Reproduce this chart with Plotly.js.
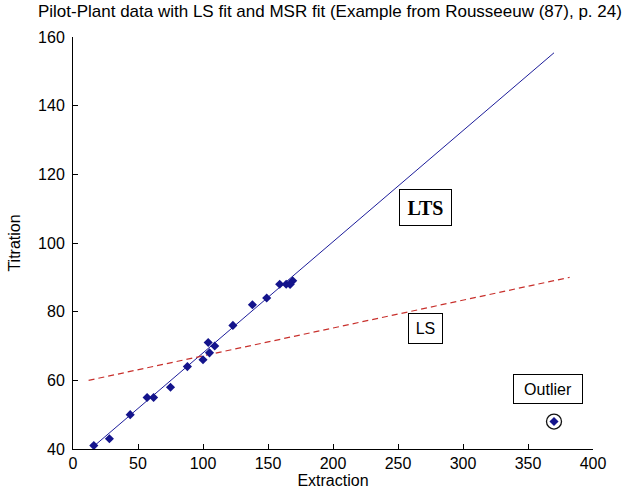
<!DOCTYPE html>
<html>
<head>
<meta charset="utf-8">
<script src="https://cdn.plot.ly/plotly-3.0.1.min.js"></script>
<style>
html,body{margin:0;padding:0;background:#fff;}
#chart{width:626px;height:495px;}
</style>
</head>
<body>
<div id="chart"></div>
<script>
// Pilot-plant data (Rousseeuw 87)
const extraction = [123,109,62,104,57,44,100,16,28,138,105,159,75,88,164,169,167,149,167];
const titration  = [76,70,55,71,55,50,66,41,43,82,68,88,58,64,88,89,88,84,88];
const outlierX = [370];
const outlierY = [48];
// fitted lines (endpoints)
const ltsX = [16, 370];
const ltsY = [40.8, 155.4];
const lsX = [12, 382];
const lsY = [60.0, 90.0];
// tick values
const xTicks = [0,50,100,150,200,250,300,350,400];
const yTicks = [40,60,80,100,120,140,160];
// label annotations
const labelText = ['<b>LTS</b>', 'LS', 'Outlier'];
const labelX = [271.5, 271.3, 365.2];
const labelY = [110.3, 75.1, 57.6];

const FONT = 'Liberation Sans, Arial, sans-serif';

const traces = [
  {x: ltsX, y: ltsY, mode: 'lines', line: {color: '#1c1c9a', width: 1}, hoverinfo: 'skip'},
  {x: lsX, y: lsY, mode: 'lines', line: {color: '#c8302c', width: 1.2, dash: '6px,4px'}, hoverinfo: 'skip'},
  {x: extraction.concat(outlierX), y: titration.concat(outlierY), mode: 'markers',
   marker: {symbol: 'diamond', size: 7, color: '#14148c'}},
  {x: outlierX, y: outlierY, mode: 'markers',
   marker: {symbol: 'circle-open', size: 15, color: '#111', line: {width: 1.3}}}
];

const boxW = [51, 33, 68];
const boxH = [35, 29, 28];
const annotations = labelText.map((t, i) => ({
  x: labelX[i], y: labelY[i], xref: 'x', yref: 'y', text: t, showarrow: false,
  font: i === 0 ? {family: 'Liberation Serif, Times New Roman, serif', size: 20, color: '#000'}
                : {family: FONT, size: 16, color: '#000'},
  width: boxW[i], height: boxH[i], align: 'center', valign: 'middle',
  bgcolor: '#fff', bordercolor: '#000', borderwidth: 1, borderpad: 0
}));

const axisCommon = {
  showgrid: false, zeroline: false, showline: true, linecolor: '#000', linewidth: 1,
  ticks: 'inside', ticklen: 5, tickcolor: '#000', tickwidth: 1,
  tickfont: {family: FONT, size: 16, color: '#000'}, automargin: false, fixedrange: true
};

const layout = {
  width: 626, height: 495,
  margin: {l: 73, r: 33, t: 37, b: 46},
  paper_bgcolor: '#fff', plot_bgcolor: '#fff',
  showlegend: false,
  title: {text: 'Pilot-Plant data with LS fit and MSR fit (Example from Rousseeuw (87), p. 24)',
          font: {family: FONT, size: 17, color: '#000'},
          x: 0.527, xref: 'container', y: 0.977, yref: 'container', yanchor: 'middle'},
  xaxis: Object.assign({}, axisCommon, {range: [0, 400], tickvals: xTicks, ticktext: xTicks.map(String),
          title: {text: 'Extraction', font: {family: FONT, size: 16, color: '#000'}, standoff: 2}}),
  yaxis: Object.assign({}, axisCommon, {range: [40, 160], tickvals: yTicks, ticktext: yTicks.map(String),
          ticklabelstandoff: 4,
          title: {text: 'Titration', font: {family: FONT, size: 16, color: '#000'}, standoff: 13}}),
  annotations: annotations
};

Plotly.newPlot('chart', traces, layout, {displayModeBar: false, staticPlot: true});
</script>
</body>
</html>
